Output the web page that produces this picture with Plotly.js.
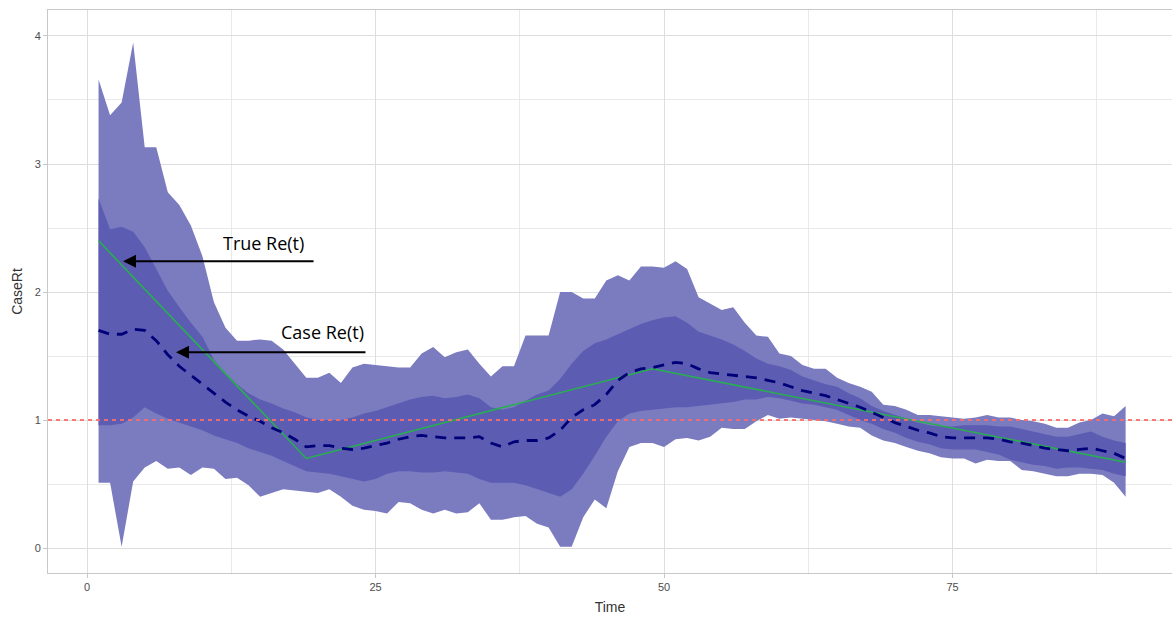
<!DOCTYPE html>
<html>
<head>
<meta charset="utf-8">
<script src="https://cdn.plot.ly/plotly-3.0.1.min.js"></script>
<style>html,body{margin:0;padding:0;background:#fff;}#chart{width:1172px;height:621px;}</style>
</head>
<body>
<div id="chart"></div>
<script>
// Time (days)
const time = [];
for (let i = 1; i <= 90; i++) time.push(i);

// Outer credible band (light)
const outerHigh = [3.66,3.38,3.48,3.95,3.13,3.13,2.78,2.68,2.52,2.28,
  1.92,1.72,1.62,1.62,1.63,1.62,1.55,1.44,1.33,1.33,
  1.37,1.29,1.41,1.44,1.43,1.42,1.41,1.41,1.52,1.57,
  1.49,1.53,1.55,1.44,1.34,1.42,1.42,1.66,1.66,1.66,
  2.00,2.00,1.95,1.95,2.09,2.13,2.09,2.20,2.20,2.19,
  2.24,2.18,1.96,1.91,1.86,1.88,1.76,1.66,1.65,1.52,
  1.50,1.43,1.40,1.40,1.33,1.29,1.26,1.22,1.12,1.11,
  1.08,1.04,1.04,1.03,1.02,1.01,1.02,1.04,1.02,1.02,
  1.00,0.99,0.97,0.94,0.94,0.98,1.00,1.05,1.03,1.11];
const outerLow = [0.51,0.51,0.01,0.52,0.63,0.68,0.62,0.63,0.57,0.63,
  0.62,0.54,0.55,0.49,0.40,0.43,0.46,0.45,0.44,0.43,
  0.46,0.40,0.33,0.30,0.29,0.27,0.36,0.35,0.30,0.27,
  0.30,0.27,0.28,0.35,0.22,0.22,0.24,0.25,0.19,0.16,
  0.01,0.01,0.24,0.38,0.31,0.60,0.79,0.82,0.82,0.79,
  0.85,0.86,0.84,0.87,0.94,0.93,0.93,0.99,1.04,1.01,
  1.02,1.01,1.00,0.99,0.97,0.95,0.94,0.88,0.84,0.82,
  0.79,0.76,0.74,0.71,0.70,0.70,0.66,0.69,0.68,0.68,
  0.61,0.60,0.58,0.56,0.56,0.58,0.58,0.57,0.51,0.40];

// Inner credible band (dark)
const innerHigh = [2.73,2.49,2.51,2.47,2.35,2.18,2.01,1.88,1.76,1.65,
  1.47,1.37,1.28,1.21,1.16,1.13,1.09,1.06,1.02,1.00,
  1.00,1.00,1.02,1.05,1.07,1.10,1.13,1.16,1.18,1.19,
  1.17,1.18,1.20,1.17,1.10,1.08,1.10,1.15,1.20,1.23,
  1.32,1.44,1.54,1.60,1.63,1.67,1.71,1.75,1.78,1.80,
  1.81,1.76,1.69,1.66,1.63,1.59,1.54,1.48,1.44,1.42,
  1.39,1.34,1.31,1.28,1.26,1.21,1.17,1.11,1.07,1.04,
  1.01,0.98,0.96,0.95,0.95,0.96,0.96,0.96,0.95,0.95,
  0.93,0.91,0.89,0.87,0.87,0.89,0.91,0.87,0.84,0.82];
const innerLow = [0.96,0.96,0.97,1.02,1.10,1.05,1.01,0.98,0.95,0.92,
  0.88,0.85,0.82,0.78,0.75,0.72,0.68,0.64,0.60,0.59,
  0.58,0.56,0.54,0.52,0.54,0.58,0.60,0.60,0.59,0.59,
  0.60,0.59,0.58,0.54,0.51,0.51,0.51,0.49,0.46,0.43,
  0.40,0.46,0.58,0.72,0.87,0.99,1.05,1.07,1.08,1.09,
  1.10,1.10,1.11,1.12,1.13,1.14,1.16,1.16,1.18,1.17,
  1.15,1.13,1.12,1.10,1.08,1.04,1.00,0.97,0.93,0.90,
  0.86,0.83,0.81,0.78,0.77,0.77,0.77,0.75,0.73,0.69,
  0.67,0.65,0.64,0.62,0.63,0.63,0.62,0.61,0.58,0.56];

// Case Re(t) median estimate
const caseRt = [1.70,1.67,1.67,1.71,1.70,1.62,1.51,1.42,1.35,1.28,
  1.21,1.14,1.08,1.03,0.99,0.94,0.90,0.85,0.79,0.80,
  0.80,0.78,0.77,0.78,0.80,0.82,0.85,0.87,0.88,0.87,
  0.86,0.86,0.86,0.87,0.82,0.79,0.83,0.84,0.84,0.86,
  0.92,1.02,1.08,1.12,1.20,1.31,1.37,1.40,1.41,1.43,
  1.45,1.44,1.40,1.37,1.36,1.35,1.34,1.33,1.31,1.29,
  1.26,1.23,1.21,1.19,1.16,1.13,1.10,1.06,1.02,0.98,
  0.95,0.92,0.90,0.87,0.86,0.86,0.86,0.86,0.85,0.83,
  0.82,0.80,0.78,0.77,0.76,0.77,0.78,0.76,0.74,0.70];

// True Re(t) (piecewise)
const trueT = [1, 19, 49, 90];
const trueRt = [2.40, 0.70, 1.40, 0.67];

// Threshold
const threshold = 1;

const xTicks = [0, 25, 50, 75];
const xMinor = [12.5, 37.5, 62.5, 87.5];
const yTicks = [0, 1, 2, 3, 4];
const yMinor = [0.5, 1.5, 2.5, 3.5];

const outerFill = 'rgb(123,123,192)';
const innerFill = 'rgb(92,92,178)';

const traces = [
  {x: time, y: outerLow, type: 'scatter', mode: 'lines', line: {width: 0, color: outerFill}, hoverinfo: 'skip', showlegend: false},
  {x: time, y: outerHigh, type: 'scatter', mode: 'lines', fill: 'tonexty', fillcolor: outerFill, line: {width: 0, color: outerFill}, hoverinfo: 'skip', showlegend: false},
  {x: time, y: innerLow, type: 'scatter', mode: 'lines', line: {width: 0, color: innerFill}, hoverinfo: 'skip', showlegend: false},
  {x: time, y: innerHigh, type: 'scatter', mode: 'lines', fill: 'tonexty', fillcolor: innerFill, line: {width: 0, color: innerFill}, hoverinfo: 'skip', showlegend: false},
  {x: trueT, y: trueRt, type: 'scatter', mode: 'lines', line: {width: 1.6, color: 'rgb(40,175,80)'}, showlegend: false},
  {x: time, y: caseRt, type: 'scatter', mode: 'lines', line: {width: 2.8, color: 'rgb(0,0,120)', dash: '11px,8px'}, showlegend: false}
];

const layout = {
  width: 1172, height: 621,
  margin: {l: 48, r: 0, t: 10, b: 48},
  paper_bgcolor: '#ffffff', plot_bgcolor: '#ffffff',
  showlegend: false,
  font: {family: 'Liberation Sans, Arial, sans-serif', color: '#4d4d4d', size: 11},
  xaxis: {
    range: [-3.38, 94.02], tickvals: xTicks, ticktext: xTicks.map(String),
    showgrid: true, gridcolor: '#dedede', gridwidth: 1,
    minor: {tickvals: xMinor, showgrid: true, gridcolor: '#e9e9e9', gridwidth: 1, ticks: ''},
    zeroline: false, showline: true, mirror: true, linecolor: '#c8c8c8', linewidth: 1,
    ticks: 'outside', ticklen: 4, tickcolor: '#c8c8c8', tickwidth: 1,
    tickfont: {size: 11, color: '#4d4d4d'},
    title: {text: 'Time', font: {size: 14, color: '#333333'}, standoff: 9}
  },
  yaxis: {
    range: [-0.195, 4.203], tickvals: yTicks, ticktext: yTicks.map(String),
    showgrid: true, gridcolor: '#dedede', gridwidth: 1,
    minor: {tickvals: yMinor, showgrid: true, gridcolor: '#e9e9e9', gridwidth: 1, ticks: ''},
    zeroline: false, showline: true, mirror: false, linecolor: '#c8c8c8', linewidth: 1,
    ticks: 'outside', ticklen: 4, tickcolor: '#c8c8c8', tickwidth: 1,
    tickfont: {size: 11, color: '#4d4d4d'},
    title: {text: 'CaseRt', font: {size: 14, color: '#333333'}, standoff: 8}
  },
  shapes: [
    {type: 'line', xref: 'paper', x0: 0, x1: 1, yref: 'y', y0: threshold, y1: threshold,
     line: {color: 'rgba(245,110,110,0.9)', width: 2, dash: '4px,4px'}, layer: 'above'}
  ],
  annotations: [
    {x: 3.12, y: 2.24, xref: 'x', yref: 'y', ax: 19.76, ay: 2.24, axref: 'x', ayref: 'y',
     text: '', showarrow: true, arrowhead: 2, arrowsize: 1.3, arrowwidth: 2, arrowcolor: '#000'},
    {x: 7.71, y: 1.53, xref: 'x', yref: 'y', ax: 24.26, ay: 1.53, axref: 'x', ayref: 'y',
     text: '', showarrow: true, arrowhead: 2, arrowsize: 1.3, arrowwidth: 2, arrowcolor: '#000'},
    {x: 11.6, y: 2.38, xref: 'x', yref: 'y', text: 'True Re(t)', showarrow: false, xanchor: 'left', yanchor: 'middle',
     font: {family: 'Open Sans, sans-serif', size: 18, color: '#000'}},
    {x: 16.6, y: 1.69, xref: 'x', yref: 'y', text: 'Case Re(t)', showarrow: false, xanchor: 'left', yanchor: 'middle',
     font: {family: 'Open Sans, sans-serif', size: 18, color: '#000'}}
  ]
};

Plotly.newPlot('chart', traces, layout, {staticPlot: true, displayModeBar: false});
</script>
</body>
</html>
